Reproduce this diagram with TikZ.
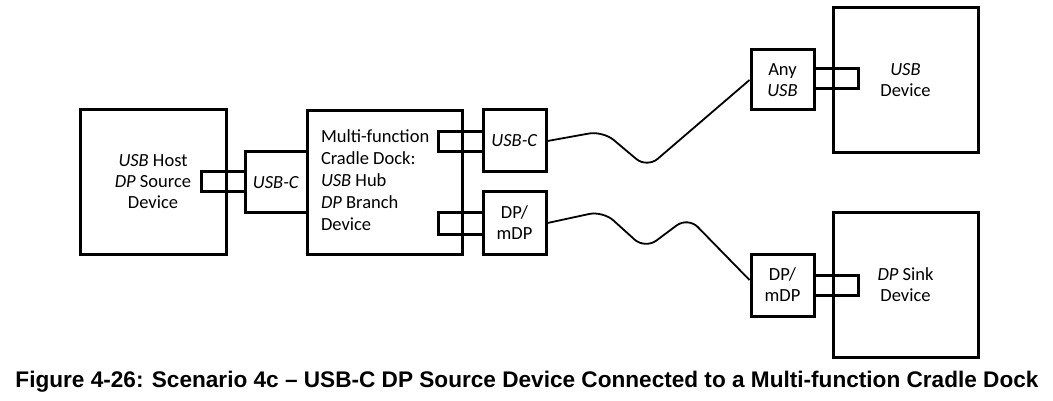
\documentclass[tikz,border=0pt]{standalone}
\usepackage{fontspec}
\usetikzlibrary{calc}
\setmainfont{Carlito}
\newfontfamily\capfont{Liberation Sans}
\begin{document}
\begin{tikzpicture}[x=1pt,y=-1pt,
  box/.style={draw,line width=3pt,inner sep=0pt,font=\fontsize{18.5}{21}\selectfont,align=center},
  plugbox/.style={draw,line width=3pt,inner sep=0pt},
  cable/.style={line width=1.8pt,rounded corners=14pt}]
\useasboundingbox (0,0) rectangle (1053,401);
% plugs (drawn first)
\node[plugbox,minimum width=44,minimum height=20] (hostplug) at (223,182) {};
\node[plugbox,minimum width=45,minimum height=20] (dockplug) at (460.5,142) {};
\node[plugbox,minimum width=45,minimum height=21] (dpplug) at (460.5,223.5) {};
\node[plugbox,minimum width=44,minimum height=20] (usbplug) at (836,79) {};
\node[plugbox,minimum width=44,minimum height=20] (sinkplug) at (836,285) {};
% boxes
\node[box,minimum width=146,minimum height=144] (host) at (153,182) {\textit{USB} Host\\\textit{DP} Source\\Device};
\node[box,minimum width=62,minimum height=61] (hostusb) at (276,182.5) {\textit{USB-C}};
\node[box,minimum width=155,minimum height=143,align=none,font=\fontsize{18.5}{22}\selectfont] (dock) at (384.5,182.5) {\makebox[127pt][l]{\def\arraystretch{1}\begin{tabular}{@{}l@{}}Multi-function\\Cradle Dock:\\\textit{USB} Hub\\\textit{DP} Branch\\Device\end{tabular}}};
\node[box,minimum width=63,minimum height=62] (dockusb) at (514.5,141) {\textit{USB-C}};
\node[box,minimum width=63,minimum height=62] (dpmdp) at (514.5,223) {DP/\\mDP};
\node[box,minimum width=63,minimum height=60] (anyusb) at (782.5,80) {Any\\\textit{USB}};
\node[box,minimum width=145,minimum height=145] (usbdev) at (905.5,80.5) {\textit{USB}\\Device};
\node[box,minimum width=63,minimum height=62] (dpmdp2) at (782.5,285) {DP/\\mDP};
\node[box,minimum width=145,minimum height=144] (sink) at (905.5,285) {\textit{DP} Sink\\Device};
% cables
\draw[cable] (dockusb.east) -- (603,131) -- (647,168) -- (anyusb.west);
\draw[cable] (dpmdp.east) -- (603,211) -- (645,249) -- (688,217) -- ($(dpmdp2.west)+(0,-5)$);
% caption
\node[font=\capfont\bfseries\fontsize{22.6}{24}\selectfont,inner sep=0pt] (cap) at (527,382) {Figure 4-26: Scenario 4c – USB-C DP Source Device Connected to a Multi-function Cradle Dock};
\end{tikzpicture}
\end{document}
